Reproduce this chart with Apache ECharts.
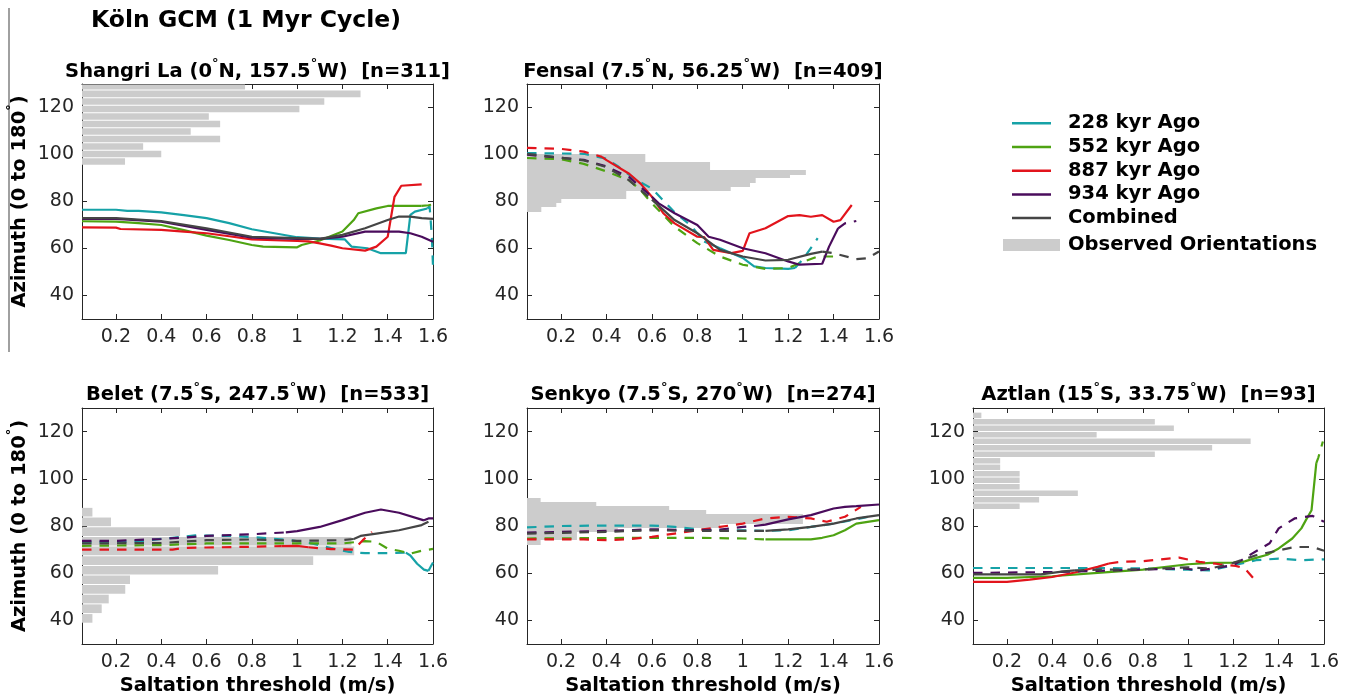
<!DOCTYPE html>
<html><head><meta charset="utf-8">
<script src="https://cdn.jsdelivr.net/npm/echarts@6/dist/echarts.min.js"></script>
<style>html,body{margin:0;padding:0;background:#fff}#c{width:1355px;height:698px}</style>
</head><body><div id="c"></div>
<script>
// ---------------- data ----------------
const X_TICKS = [0.2, 0.4, 0.6, 0.8, 1, 1.2, 1.4, 1.6];
const Y_TICKS = [40, 60, 80, 100, 120];
const X_MIN = 0.05, X_MAX = 1.6, Y_MIN = 30, Y_MAX = 130;
const MODELS = ['228 kyr Ago', '552 kyr Ago', '887 kyr Ago', '934 kyr Ago', 'Combined'];
const HIST_NAME = 'Observed Orientations';
const MAIN_TITLE = 'Köln GCM (1 Myr Cycle)';
const PANEL_TITLES = [
  'Shangri La (0{s|°}N, 157.5{s|°}W)  [n=311]',
  'Fensal (7.5{s|°}N, 56.25{s|°}W)  [n=409]',
  'Belet (7.5{s|°}S, 247.5{s|°}W)  [n=533]',
  'Senkyo (7.5{s|°}S, 270{s|°}W)  [n=274]',
  'Aztlan (15{s|°}S, 33.75{s|°}W)  [n=93]'
];
const X_NAME = 'Saltation threshold (m/s)';
const Y_NAME = 'Azimuth (0 to 180{s|°})';

// histogram bins: [azimuth low, azimuth high, bar length in x units]
const SL_HIST = [[95.4,98.6,0.24],[98.6,101.8,0.40],[101.8,105.0,0.32],[105.0,108.2,0.66],[108.2,111.4,0.53],[111.4,114.6,0.66],[114.6,117.8,0.61],[117.8,121.0,1.01],[121.0,124.2,1.12],[124.2,127.4,1.28],[127.4,130.6,0.77]];
const FE_HIST = [[75.6,77.8,0.113],[77.8,79.2,0.179],[79.2,80.9,0.201],[80.9,84.5,0.487],[84.5,86.2,0.947],[86.2,87.9,1.032],[87.9,89.8,1.057],[89.8,91.4,1.208],[91.4,93.3,1.278],[93.3,96.8,0.856],[96.8,100.3,0.571]];
const BE_HIST = [[38.8,42.9,0.096],[42.9,47.0,0.137],[47.0,51.1,0.168],[51.1,55.2,0.241],[55.2,59.2,0.262],[59.2,63.3,0.651],[63.3,67.4,1.071],[67.4,71.5,1.252],[71.5,75.6,1.24],[75.6,79.7,0.483],[79.7,83.8,0.178],[83.8,87.9,0.096]];
const SE_HIST = [[72.0,74.0,0.11],[74.0,77.5,0.27],[77.5,79.1,0.45],[79.1,80.8,0.9],[80.8,85.0,1.265],[85.0,86.7,0.839],[86.7,88.4,0.676],[88.4,90.3,0.355],[90.3,92.0,0.11]];
const AZ_HIST = [[87.0,89.75,0.256],[89.75,92.5,0.342],[92.5,95.25,0.513],[95.25,98.0,0.256],[98.0,100.75,0.256],[100.75,103.5,0.256],[103.5,106.25,0.170],[106.25,109.0,0.170],[109.0,111.75,0.853],[111.75,114.5,1.106],[114.5,117.25,1.276],[117.25,120.0,0.596],[120.0,122.75,0.937],[122.75,125.5,0.853],[125.5,128.25,0.087]];

// model curves: [threshold, azimuth, 1 = solid / 0 = dashed]
const SL_228 = [[0.05,76.5,1],[0.2,76.5,1],[0.25,76,1],[0.3,76,1],[0.4,75.4,1],[0.5,74.2,1],[0.6,72.9,1],[0.7,70.8,1],[0.8,68.2,1],[0.9,66.5,1],[1.0,64.8,1],[1.1,64.2,1],[1.21,63.9,1],[1.24,60.8,1],[1.31,60.1,1],[1.37,58,1],[1.48,58,1],[1.5,74.3,1],[1.52,75.7,1],[1.575,77,1],[1.585,78,0],[1.595,65,0],[1.6,52.3,0]];
const SL_552 = [[0.05,71.6,1],[0.2,71.4,1],[0.3,70.8,1],[0.4,70,1],[0.5,67.8,1],[0.6,65.5,1],[0.7,63.6,1],[0.8,61.5,1],[0.85,60.8,1],[0.9,60.7,1],[1.0,60.5,1],[1.02,61.5,1],[1.1,63.4,1],[1.2,67.2,1],[1.25,72.1,1],[1.27,75,1],[1.35,77.1,1],[1.4,78.1,1],[1.55,78.1,1],[1.58,78.4,0],[1.6,78.8,0]];
const SL_887 = [[0.05,69,1],[0.2,68.9,1],[0.22,68.3,1],[0.4,67.9,1],[0.5,67.2,1],[0.6,66.5,1],[0.7,65.2,1],[0.8,63.9,1],[1.0,63.2,1],[1.05,63,1],[1.1,62.2,1],[1.15,61.2,1],[1.2,60.1,1],[1.3,59.1,1],[1.35,60.8,1],[1.4,65,1],[1.43,82,1],[1.46,86.7,1],[1.55,87.3,1]];
const SL_934 = [[0.05,72.6,1],[0.2,72.6,1],[0.4,71.4,1],[0.6,67.9,1],[0.8,64.6,1],[1.0,64.1,1],[1.1,64.1,1],[1.2,65,1],[1.3,67.2,1],[1.45,67.2,1],[1.5,66.5,1],[1.55,65,1],[1.6,62.9,1]];
const SL_COMB = [[0.05,72.9,1],[0.2,72.9,1],[0.4,71.7,1],[0.6,68.6,1],[0.8,65,1],[1.0,64.4,1],[1.1,64.1,1],[1.2,65.8,1],[1.3,68.6,1],[1.4,72.1,1],[1.45,73.6,1],[1.5,73.6,1],[1.55,72.9,1],[1.6,72.6,1]];

const FE_228 = [[0.05,100.6,0],[0.3,100.3,0],[0.4,98.2,0],[0.45,95,0],[0.53,89.2,0],[0.6,85.5,0],[0.7,75.4,0],[0.77,69.9,0],[0.83,63,0],[0.9,60.1,1],[1.0,56,1],[1.05,52.4,1],[1.1,51.7,1],[1.2,51.3,1],[1.23,51.7,1],[1.27,56,0],[1.33,64.4,0]];
const FE_552 = [[0.05,98.5,0],[0.2,98,0],[0.3,96,0],[0.4,92.8,0],[0.5,89,0],[0.55,84.8,0],[0.6,79.2,0],[0.7,69.3,0],[0.8,62.3,0],[0.9,56.6,0],[1.0,53.1,0],[1.1,51.3,0],[1.2,51.7,0],[1.27,54.5,0],[1.33,56.6,0],[1.4,56.6,0]];
const FE_887 = [[0.05,102.8,0],[0.2,102.4,0],[0.3,101.2,0],[0.38,99,0],[0.4,97.6,1],[0.5,91.8,1],[0.55,87.6,1],[0.6,82,1],[0.65,75,1],[0.7,70.7,1],[0.8,65,1],[0.83,64.8,1],[0.87,59.4,1],[0.95,58,1],[1.0,59,1],[1.03,66.5,1],[1.1,68.6,1],[1.2,73.8,1],[1.25,74.2,1],[1.3,73.5,1],[1.35,74.2,1],[1.4,71.4,1],[1.43,72.1,1],[1.48,78.5,1]];
const FE_934 = [[0.05,99.9,0],[0.3,97.7,0],[0.4,94.9,0],[0.5,90.4,0],[0.6,82,0],[0.63,79.2,1],[0.7,75,1],[0.8,70,1],[0.85,65,1],[0.9,63.7,1],[1.0,60.1,1],[1.1,58,1],[1.2,54.5,1],[1.25,53.1,1],[1.35,53.5,1],[1.38,60.8,1],[1.42,68.6,1],[1.45,70.7,0],[1.5,71.7,0]];
const FE_COMB = [[0.05,100.3,0],[0.3,97.5,0],[0.4,94.6,0],[0.5,89,0],[0.6,80.8,0],[0.7,72.1,1],[0.8,66.5,1],[0.9,59.4,1],[1.0,56.6,1],[1.1,54.9,1],[1.2,55.2,1],[1.3,57.7,1],[1.35,58.7,1],[1.4,58,0],[1.5,55.5,0],[1.55,55.9,0],[1.6,58.7,0]];

const BE_228 = [[0.05,73,0],[0.3,73.5,0],[0.45,75,0],[0.55,76,0],[0.7,75.8,0],[0.82,75.2,0],[0.97,74,0],[1.06,72.7,0],[1.15,70.6,0],[1.23,69,0],[1.3,68.5,0],[1.4,68.5,0],[1.48,68.7,0],[1.5,67.5,1],[1.53,64,1],[1.56,61.5,1],[1.58,61,1],[1.6,64.5,0]];
const BE_552 = [[0.05,71.6,0],[0.4,71.9,0],[0.6,72.6,0],[0.8,72.6,0],[1.0,72.6,0],[1.2,72.6,0],[1.3,73.6,0],[1.35,73.3,0],[1.4,70.4,0],[1.45,69.5,0],[1.5,68.3,0],[1.55,69.5,0],[1.6,70.3,0]];
const BE_887 = [[0.05,70,0],[0.45,70,0],[0.5,70.7,0],[0.6,70.9,0],[0.8,71.2,0],[0.93,71.5,0],[1.0,71.6,1],[1.05,71,1],[1.1,70.6,0],[1.15,70.2,0],[1.25,70,0],[1.29,74,0],[1.33,77.5,0]];
const BE_934 = [[0.05,73.7,0],[0.2,73.7,0],[0.4,74.5,0],[0.5,75.1,0],[0.6,75.8,0],[0.8,76.5,0],[0.95,77.3,0],[1.0,77.8,1],[1.1,79.6,1],[1.2,82.5,1],[1.3,85.6,1],[1.37,87,1],[1.45,85.6,1],[1.56,82.4,1],[1.58,83.2,0],[1.6,83.2,0]];
const BE_COMB = [[0.05,72.6,0],[0.4,72.8,0],[0.6,74,0],[0.8,74.3,0],[1.0,73.7,0],[1.2,74,0],[1.25,74.5,0],[1.28,75.8,1],[1.35,76.8,1],[1.45,78.2,1],[1.55,80.4,1],[1.58,81.8,1]];

const SE_228 = [[0.05,79.4,0],[0.2,80,0],[0.4,80.2,0],[0.6,80.2,0],[0.7,79.6,0],[0.8,78.7,0],[0.9,78.2,0],[1.0,78.2,0],[1.1,77.9,0],[1.2,78.2,0],[1.3,79.6,0],[1.4,81,0],[1.5,82.8,0],[1.55,83.9,0]];
const SE_552 = [[0.05,74.7,0],[0.6,75,0],[0.8,75,0],[1.0,74.7,0],[1.1,74.3,0],[1.13,74.3,1],[1.3,74.3,1],[1.35,75,1],[1.4,76.1,1],[1.45,78.2,1],[1.5,81,1],[1.6,82.5,1]];
const SE_887 = [[0.05,74.3,0],[0.3,74.3,0],[0.4,74,0],[0.5,74.4,0],[0.6,75.4,0],[0.7,76.8,0],[0.8,78.2,0],[0.9,79.6,0],[1.0,81,0],[1.1,83.2,0],[1.2,83.9,0],[1.3,83.2,0],[1.37,81.8,0],[1.45,83.9,0],[1.52,88.1,0]];
const SE_934 = [[0.05,77.2,0],[0.4,77.9,0],[0.6,78.6,0],[0.8,78.2,0],[0.9,78.5,0],[1.0,79.6,0],[1.05,80,0],[1.1,80.6,1],[1.2,82.8,1],[1.3,84.6,1],[1.4,87.4,1],[1.45,88.1,1],[1.5,88.4,1],[1.6,89.1,1]];
const SE_COMB = [[0.05,76.8,0],[0.4,77.5,0],[0.6,78.2,0],[0.8,77.9,0],[1.0,77.9,0],[1.1,77.9,0],[1.2,78.6,1],[1.3,79.6,1],[1.4,81,1],[1.5,83.2,1],[1.6,84.6,1]];

const AZ_228 = [[0.05,62.2,0],[0.6,62.2,0],[0.8,62,0],[1.0,61.5,0],[1.1,61.2,0],[1.2,63.4,0],[1.3,65.5,0],[1.4,66.2,0],[1.5,65.5,0],[1.6,65.9,0]];
const AZ_552 = [[0.05,58,1],[0.2,58,1],[0.4,58.7,1],[0.6,60.1,1],[0.8,61.5,1],[1.0,63.8,1],[1.1,64.4,1],[1.2,64.5,1],[1.25,65,1],[1.3,66.5,1],[1.35,67.8,1],[1.4,70.5,1],[1.46,74.7,1],[1.5,79,1],[1.52,82.5,1],[1.545,86.7,1],[1.566,106.6,1],[1.575,109,0],[1.595,115.8,0]];
const AZ_887 = [[0.05,56.3,1],[0.2,56.3,1],[0.3,57.3,1],[0.4,58.4,1],[0.5,60.3,1],[0.6,62.7,1],[0.65,64.1,1],[0.7,64.8,0],[0.8,65.1,0],[0.96,66.6,0],[1.05,64.8,0],[1.14,63.8,0],[1.21,63.1,0],[1.25,62,0],[1.29,57.7,0]];
const AZ_934 = [[0.05,60.1,0],[0.4,60.5,0],[0.6,61,0],[0.8,61.6,0],[0.98,62,0],[1.05,61.2,0],[1.2,63.4,0],[1.27,67.6,0],[1.36,72.7,0],[1.4,79,0],[1.47,83.2,0],[1.55,84.3,0],[1.6,81.8,0]];
const AZ_COMB = [[0.05,59.5,1],[0.35,59.5,1],[0.45,60.8,1],[0.5,61.2,1],[0.6,61.5,0],[0.8,61.6,0],[1.0,62.5,0],[1.1,62,0],[1.2,64.4,0],[1.3,67.6,0],[1.4,69.7,0],[1.47,71.1,0],[1.55,71.1,0],[1.6,69.5,0]];

// ---------------- layout / style ----------------
const COLORS = ['#16a2a7', '#4ea312', '#e2141c', '#4a0c5c', '#454545'];
const FONT = 'DejaVu Sans';
const PANELS = [
  { hist: SL_HIST, lines: [SL_228, SL_552, SL_887, SL_934, SL_COMB], grid: {left: 82, top: 84, width: 351, height: 235}, gap: true, yName: true, xName: false },
  { hist: FE_HIST, lines: [FE_228, FE_552, FE_887, FE_934, FE_COMB], grid: {left: 527, top: 84, width: 352, height: 235}, gap: false, yName: false, xName: false },
  { hist: BE_HIST, lines: [BE_228, BE_552, BE_887, BE_934, BE_COMB], grid: {left: 82, top: 408, width: 351, height: 236}, gap: true, yName: true, xName: true },
  { hist: SE_HIST, lines: [SE_228, SE_552, SE_887, SE_934, SE_COMB], grid: {left: 527, top: 408, width: 352, height: 236}, gap: false, yName: false, xName: true },
  { hist: AZ_HIST, lines: [AZ_228, AZ_552, AZ_887, AZ_934, AZ_COMB], grid: {left: 973, top: 408, width: 351, height: 236}, gap: true, yName: false, xName: true }
];
const AXIS_COLOR = '#262626';
const DASH = [9.5, 8];
const SUP = { fontSize: 13, fontWeight: 'bold', fontFamily: FONT, color: '#000', verticalAlign: 'top', padding: [0, 0, 16, 0] };

function runs(pts) {
  const out = []; let cur = null;
  pts.forEach(p => {
    const solid = p[2] === 1;
    if (!cur || cur.solid !== solid) {
      const seg = { solid, data: cur ? [cur.data[cur.data.length - 1]] : [] };
      out.push(seg); cur = seg;
    }
    cur.data.push([p[0], p[1]]);
  });
  return out;
}

const grids = [], xAxes = [], yAxes = [], series = [];
PANELS.forEach((P, i) => {
  grids.push(Object.assign({ outerBoundsMode: 'none', containLabel: false }, P.grid));
  const base = { type: 'value', gridIndex: i, splitLine: { show: false },
    axisLine: { show: true, onZero: false, lineStyle: { color: AXIS_COLOR, width: 1 } } };
  xAxes.push(Object.assign({}, base, {
    position: 'bottom', min: X_MIN, max: X_MAX,
    axisTick: { show: true, inside: true, length: 5, customValues: X_TICKS, lineStyle: { color: AXIS_COLOR } },
    axisLabel: { show: true, customValues: X_TICKS, margin: 9, fontSize: 19, fontFamily: FONT, color: AXIS_COLOR },
    name: P.xName ? X_NAME : '', nameLocation: 'middle', nameGap: 32,
    nameTextStyle: { fontSize: 19.5, fontWeight: 'bold', fontFamily: FONT, color: '#000' }
  }));
  xAxes.push(Object.assign({}, base, {
    position: 'top', min: X_MIN, max: X_MAX,
    axisTick: { show: true, inside: true, length: 5, customValues: X_TICKS, lineStyle: { color: AXIS_COLOR } },
    axisLabel: { show: false }
  }));
  yAxes.push(Object.assign({}, base, {
    position: 'left', min: Y_MIN, max: Y_MAX,
    axisTick: { show: true, inside: true, length: 5, customValues: Y_TICKS, lineStyle: { color: AXIS_COLOR } },
    axisLabel: { show: true, customValues: Y_TICKS, margin: 8, fontSize: 19, fontFamily: FONT, color: AXIS_COLOR },
    name: P.yName ? Y_NAME : '', nameLocation: 'middle', nameGap: 48, nameRotate: 90,
    nameTextStyle: { fontSize: 19.5, fontWeight: 'bold', fontFamily: FONT, color: '#000', rich: { s: SUP } }
  }));
  yAxes.push(Object.assign({}, base, {
    position: 'right', min: Y_MIN, max: Y_MAX,
    axisTick: { show: true, inside: true, length: 5, customValues: Y_TICKS, lineStyle: { color: AXIS_COLOR } },
    axisLabel: { show: false }
  }));

  const gap = P.gap;
  series.push({
    type: 'custom', name: HIST_NAME, xAxisIndex: 2 * i, yAxisIndex: 2 * i, z: 1, silent: true,
    data: P.hist, encode: { x: 2, y: [0, 1] }, itemStyle: { color: '#cccccc' },
    renderItem(params, api) {
      const yl = api.value(0), yh = api.value(1), len = api.value(2);
      const a = api.coord([X_MIN, yh]), b = api.coord([len, yl]);
      const cs = params.coordSys;
      let top = Math.max(a[1], cs.y), bot = Math.min(b[1], cs.y + cs.height);
      if (gap) { top += 0.5; bot -= 0.5; } else { top = Math.round(top); bot = Math.round(bot); }
      return { type: 'rect', shape: { x: a[0], y: top, width: b[0] - a[0], height: bot - top },
        style: { fill: '#cccccc' } };
    }
  });
});

// line series: first panel first so legend icons come from solid lines
PANELS.forEach((P, i) => {
  P.lines.forEach((pts, m) => {
    runs(pts).forEach(r => {
      series.push({
        type: 'line', name: MODELS[m], xAxisIndex: 2 * i, yAxisIndex: 2 * i, z: 3 + m, silent: true,
        data: r.data, symbol: 'none', showSymbol: false, smooth: false, clip: true,
        lineStyle: { color: COLORS[m], width: 2.2, type: r.solid ? 'solid' : DASH, cap: 'butt' },
        itemStyle: { color: COLORS[m] }
      });
    });
  });
});

const TITLE_POS = [[257.5, 72], [703, 72], [257.5, 395.3], [703, 395.3], [1148.5, 395.3]];
const graphics = [
  { type: 'line', shape: { x1: 9, y1: 8, x2: 9, y2: 352 }, style: { stroke: '#808080', lineWidth: 1.5 } },
  { type: 'text', x: 246, y: 21, style: { text: MAIN_TITLE, font: 'bold 23.5px "DejaVu Sans"', fill: '#000', align: 'center', verticalAlign: 'middle' } }
];
PANEL_TITLES.forEach((t, i) => {
  graphics.push({ type: 'text', x: TITLE_POS[i][0], y: TITLE_POS[i][1],
    style: { text: t, fontSize: 19.5, fontWeight: 'bold', fontFamily: FONT, fill: '#000', align: 'center', verticalAlign: 'middle',
      rich: { s: SUP } } });
});

const LEGEND_TEXT = { fontSize: 19.5, fontWeight: 'bold', fontFamily: FONT, color: '#000', lineHeight: 20 };
const chart = echarts.init(document.getElementById('c'), null, { renderer: 'canvas' });
chart.setOption({
  animation: false,
  backgroundColor: '#fff',
  grid: grids, xAxis: xAxes, yAxis: yAxes, series,
  legend: [
    { data: MODELS, orient: 'vertical', left: 1012, top: 113.3, padding: 0, itemWidth: 39, itemHeight: 2.5, itemGap: 3.7,
      icon: 'rect', selectedMode: false,
      textStyle: Object.assign({ padding: [0, 0, 0, 12] }, LEGEND_TEXT) },
    { data: [HIST_NAME], orient: 'vertical', left: 1003, top: 235, padding: 0, itemWidth: 57, itemHeight: 12, icon: 'rect', selectedMode: false,
      textStyle: Object.assign({ padding: [0, 0, 0, 3] }, LEGEND_TEXT) }
  ],
  graphic: graphics
});
</script></body></html>
